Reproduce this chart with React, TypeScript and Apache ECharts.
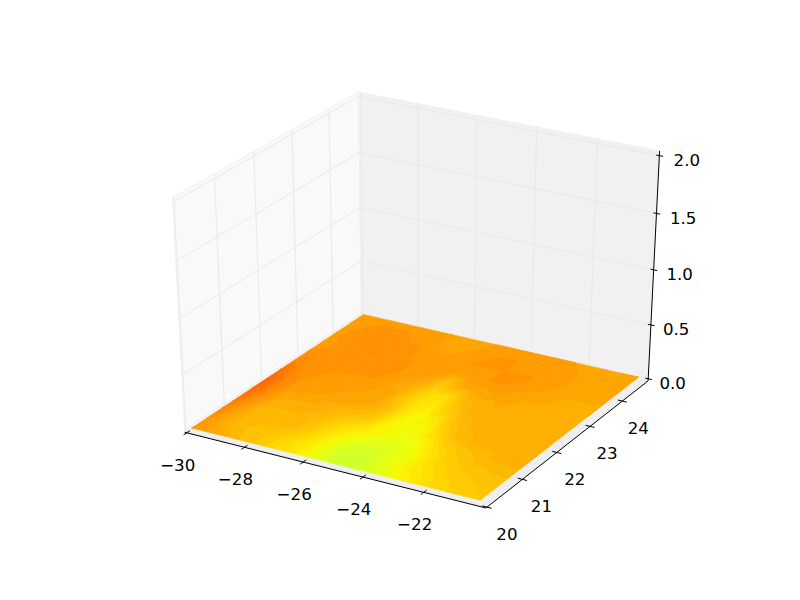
import React, { useEffect, useRef } from "react";
import * as echarts from "echarts";

// Tick values
const xTicks = [-30, -28, -26, -24, -22];
const yTicks = [20, 21, 22, 23, 24];
const zTicks = [0, 0.5, 1, 1.5, 2];

// Surface limits (data extent in x and y; the surface lies on z = 0)
const surfaceX = [-29.97, -20.3];
const surfaceY = [20.08, 24.8];
const surfaceLevel = 0;

// Surface colour values, rows from y-min to y-max, columns from x-min to x-max
const row0 = [0.75, 0.74, 0.725, 0.71, 0.70, 0.685, 0.67, 0.65, 0.625, 0.60, 0.595, 0.615, 0.635, 0.65, 0.665, 0.68, 0.69, 0.695, 0.70];
const row1 = [0.755, 0.73, 0.715, 0.705, 0.70, 0.69, 0.675, 0.655, 0.625, 0.60, 0.60, 0.62, 0.64, 0.66, 0.675, 0.69, 0.695, 0.70, 0.705];
const row2 = [0.77, 0.735, 0.715, 0.715, 0.715, 0.71, 0.69, 0.665, 0.64, 0.625, 0.62, 0.625, 0.64, 0.665, 0.69, 0.70, 0.705, 0.71, 0.71];
const row3 = [0.785, 0.75, 0.72, 0.72, 0.72, 0.715, 0.70, 0.68, 0.665, 0.655, 0.64, 0.635, 0.65, 0.685, 0.70, 0.71, 0.72, 0.72, 0.72];
const row4 = [0.80, 0.765, 0.735, 0.73, 0.73, 0.725, 0.715, 0.71, 0.695, 0.655, 0.645, 0.645, 0.685, 0.71, 0.72, 0.725, 0.725, 0.725, 0.725];
const row5 = [0.805, 0.77, 0.745, 0.745, 0.74, 0.735, 0.735, 0.73, 0.71, 0.67, 0.645, 0.665, 0.705, 0.72, 0.725, 0.725, 0.725, 0.725, 0.725];
const row6 = [0.79, 0.765, 0.75, 0.745, 0.745, 0.745, 0.74, 0.735, 0.70, 0.67, 0.66, 0.70, 0.72, 0.725, 0.725, 0.72, 0.72, 0.725, 0.725];
const row7 = [0.77, 0.755, 0.75, 0.75, 0.75, 0.75, 0.745, 0.73, 0.715, 0.68, 0.675, 0.715, 0.725, 0.73, 0.725, 0.725, 0.725, 0.725, 0.725];
const row8 = [0.75, 0.75, 0.75, 0.755, 0.755, 0.755, 0.75, 0.745, 0.735, 0.70, 0.73, 0.735, 0.74, 0.735, 0.73, 0.73, 0.725, 0.725, 0.73];
const row9 = [0.745, 0.75, 0.755, 0.76, 0.76, 0.755, 0.75, 0.745, 0.745, 0.74, 0.745, 0.75, 0.75, 0.745, 0.74, 0.735, 0.73, 0.73, 0.73];
const row10 = [0.745, 0.755, 0.76, 0.76, 0.755, 0.755, 0.745, 0.74, 0.745, 0.75, 0.75, 0.75, 0.75, 0.75, 0.745, 0.74, 0.735, 0.73, 0.73];
const row11 = [0.745, 0.75, 0.755, 0.755, 0.75, 0.745, 0.74, 0.735, 0.74, 0.745, 0.75, 0.75, 0.745, 0.745, 0.745, 0.74, 0.735, 0.73, 0.73];
const row12 = [0.745, 0.745, 0.745, 0.745, 0.745, 0.745, 0.74, 0.735, 0.735, 0.74, 0.74, 0.74, 0.74, 0.74, 0.74, 0.735, 0.735, 0.73, 0.73];
const surfaceRows = [row0, row1, row2, row3, row4, row5, row6, row7, row8, row9, row10, row11, row12];

// Band edges of the filled contours
const bandStep = 0.01;
const bandStart = 0.59;
const bandCount = 23;

// Pane limits and view
const XR = [-30.07, -19.99];
const YR = [19.97, 24.82];
const ZR = [-0.02, 2.04];
const SX = 3476, OX = 420, SY = 2682, OY = 292.9;

type P = [number, number];
function project(x: number, y: number, z: number): P {
  const a = (x - XR[0]) / (XR[1] - XR[0]) - 0.5;
  const b = (y - YR[0]) / (YR[1] - YR[0]) - 0.5;
  const c = (z - ZR[0]) / (ZR[1] - ZR[0]) - 0.5;
  const u = 0.866025 * a + 0.5 * b;
  const v = -0.25 * a + 0.433013 * b + 0.866025 * c;
  const n = 0.433013 * a - 0.75 * b + 0.5 * c;
  const w = 10 - n;
  return [OX + (SX * u) / w, OY - (SY * v) / w];
}

function jet(t: number): string {
  const cl = (s: number) => Math.round(255 * Math.max(0, Math.min(1, s)));
  const r = t < 0.35 ? 0 : t < 0.66 ? (t - 0.35) / 0.31 : t < 0.89 ? 1 : 1 - (0.5 * (t - 0.89)) / 0.11;
  const g = t < 0.125 ? 0 : t < 0.375 ? (t - 0.125) / 0.25 : t < 0.64 ? 1 : t < 0.91 ? (0.91 - t) / 0.27 : 0;
  const b = t < 0.11 ? 0.5 + (0.5 * t) / 0.11 : t < 0.34 ? 1 : t < 0.65 ? 1 - (t - 0.34) / 0.31 : 0;
  return `rgb(${cl(r)},${cl(g)},${cl(b)})`;
}

type V = { x: number; y: number; v: number };
function clip(poly: V[], level: number, keepAbove: boolean): V[] {
  const out: V[] = [];
  for (let i = 0; i < poly.length; i++) {
    const a = poly[i];
    const b = poly[(i + 1) % poly.length];
    const ina = keepAbove ? a.v >= level : a.v <= level;
    const inb = keepAbove ? b.v >= level : b.v <= level;
    if (ina) out.push(a);
    if (ina !== inb) {
      const t = (level - a.v) / (b.v - a.v);
      out.push({ x: a.x + (b.x - a.x) * t, y: a.y + (b.y - a.y) * t, v: level });
    }
  }
  return out;
}

function buildBands() {
  const polys: { points: P[]; color: string }[] = [];
  const nr = surfaceRows.length;
  const nc = surfaceRows[0].length;
  const node = (i: number, j: number): V => ({
    x: surfaceX[0] + ((surfaceX[1] - surfaceX[0]) * i) / (nc - 1),
    y: surfaceY[0] + ((surfaceY[1] - surfaceY[0]) * j) / (nr - 1),
    v: surfaceRows[j][i],
  });
  for (let j = 0; j < nr - 1; j++) {
    for (let i = 0; i < nc - 1; i++) {
      const a = node(i, j), b = node(i + 1, j), c = node(i + 1, j + 1), d = node(i, j + 1);
      for (const tri of [[a, b, c], [a, c, d]]) {
        for (let k = 0; k < bandCount; k++) {
          const lo = bandStart + k * bandStep;
          const hi = lo + bandStep;
          let p = clip(tri, lo, true);
          if (p.length) p = clip(p, hi, false);
          if (p.length > 2) {
            polys.push({
              points: p.map((q) => project(q.x, q.y, surfaceLevel)),
              color: jet(lo + bandStep / 2),
            });
          }
        }
      }
    }
  }
  return polys;
}

function buildOption() {
  const [x0, x1] = XR, [y0, y1] = YR, [z0, z1] = ZR;
  const panes = [
    { pts: [project(x0, y0, z0), project(x0, y1, z0), project(x0, y1, z1), project(x0, y0, z1)], color: "#f9f9f9" },
    { pts: [project(x0, y1, z0), project(x1, y1, z0), project(x1, y1, z1), project(x0, y1, z1)], color: "#f1f1f1" },
    { pts: [project(x0, y0, z0), project(x1, y0, z0), project(x1, y1, z0), project(x0, y1, z0)], color: "#efefef" },
  ];
  const grid: P[][] = [];
  for (const x of xTicks) grid.push([project(x, y0, z0), project(x, y1, z0), project(x, y1, z1)]);
  for (const y of yTicks) grid.push([project(x1, y, z0), project(x0, y, z0), project(x0, y, z1)]);
  for (const z of zTicks) grid.push([project(x0, y0, z), project(x0, y1, z), project(x1, y1, z)]);

  const axes: P[][] = [
    [project(x0, y0, z0), project(x1, y0, z0)],
    [project(x1, y0, z0), project(x1, y1, z0)],
    [project(x1, y1, z0), project(x1, y1, z1)],
  ];
  const labels: { text: string; at: P }[] = [];
  for (const x of xTicks) {
    axes.push([project(x, y0 - 0.08, z0), project(x, y0 + 0.08, z0)]);
    const p = project(x, y0, z0);
    labels.push({ text: String(x).replace("-", "\u2212"), at: [p[0] - 9, p[1] + 32.5] });
  }
  for (const y of yTicks) {
    axes.push([project(x1 - 0.15, y, z0), project(x1 + 0.15, y, z0)]);
    const p = project(x1, y, z0);
    labels.push({ text: String(y), at: [p[0] + 20 - (y - 20), p[1] + 27] });
  }
  for (const z of zTicks) {
    axes.push([project(x1 - 0.1, y1, z), project(x1 + 0.12, y1, z)]);
    const p = project(x1, y1, z);
    labels.push({ text: z.toFixed(1), at: [p[0] + 24.5 + 1.5 * z, p[1] + 5] });
  }
  const polys = buildBands();

  return {
    animation: false,
    backgroundColor: "#ffffff",
    grid: { left: 0, right: 0, top: 0, bottom: 0 },
    xAxis: { type: "value", min: 0, max: 800, show: false },
    yAxis: { type: "value", min: 0, max: 600, inverse: true, show: false },
    series: [
      {
        type: "custom", clip: false, silent: true, progressive: 0, z: 1,
        data: panes.map((_, i) => i),
        renderItem: (params: any, api: any) => ({
          type: "polygon",
          shape: { points: panes[params.dataIndex].pts.map((p) => api.coord(p)) },
          style: { fill: panes[params.dataIndex].color, stroke: "#f0f0f0", lineWidth: 1 },
        }),
      },
      {
        type: "custom", clip: false, silent: true, progressive: 0, z: 2,
        data: grid.map((_, i) => i),
        renderItem: (params: any, api: any) => ({
          type: "polyline",
          shape: { points: grid[params.dataIndex].map((p) => api.coord(p)) },
          style: { fill: "none", stroke: "#e8e8e8", lineWidth: 1 },
        }),
      },
      {
        type: "custom", clip: false, silent: true, progressive: 0, z: 3,
        data: polys.map((_, i) => i),
        renderItem: (params: any, api: any) => ({
          type: "polygon",
          shape: { points: polys[params.dataIndex].points.map((p) => api.coord(p)) },
          style: { fill: polys[params.dataIndex].color, stroke: polys[params.dataIndex].color, lineWidth: 0.6, lineJoin: "round" },
        }),
      },
      {
        type: "custom", clip: false, silent: true, progressive: 0, z: 4,
        data: axes.map((_, i) => i),
        renderItem: (params: any, api: any) => ({
          type: "polyline",
          shape: { points: axes[params.dataIndex].map((p) => api.coord(p)) },
          style: { fill: "none", stroke: "#000000", lineWidth: 1 },
        }),
      },
      {
        type: "custom", clip: false, silent: true, progressive: 0, z: 5,
        data: labels.map((_, i) => i),
        renderItem: (params: any, api: any) => {
          const l = labels[params.dataIndex];
          const p = api.coord(l.at);
          return {
            type: "text",
            style: {
              text: l.text, x: p[0], y: p[1], fill: "#000000",
              font: '16.67px "DejaVu Sans"', textAlign: "center", textVerticalAlign: "middle",
            },
          };
        },
      },
    ],
  };
}

export default function App() {
  const ref = useRef<HTMLDivElement>(null);
  useEffect(() => {
    document.body.style.margin = "0";
    const chart = echarts.init(ref.current!, null, { renderer: "svg" });
    chart.setOption(buildOption() as any);
    return () => chart.dispose();
  }, []);
  return <div ref={ref} style={{ width: 800, height: 600 }} />;
}
